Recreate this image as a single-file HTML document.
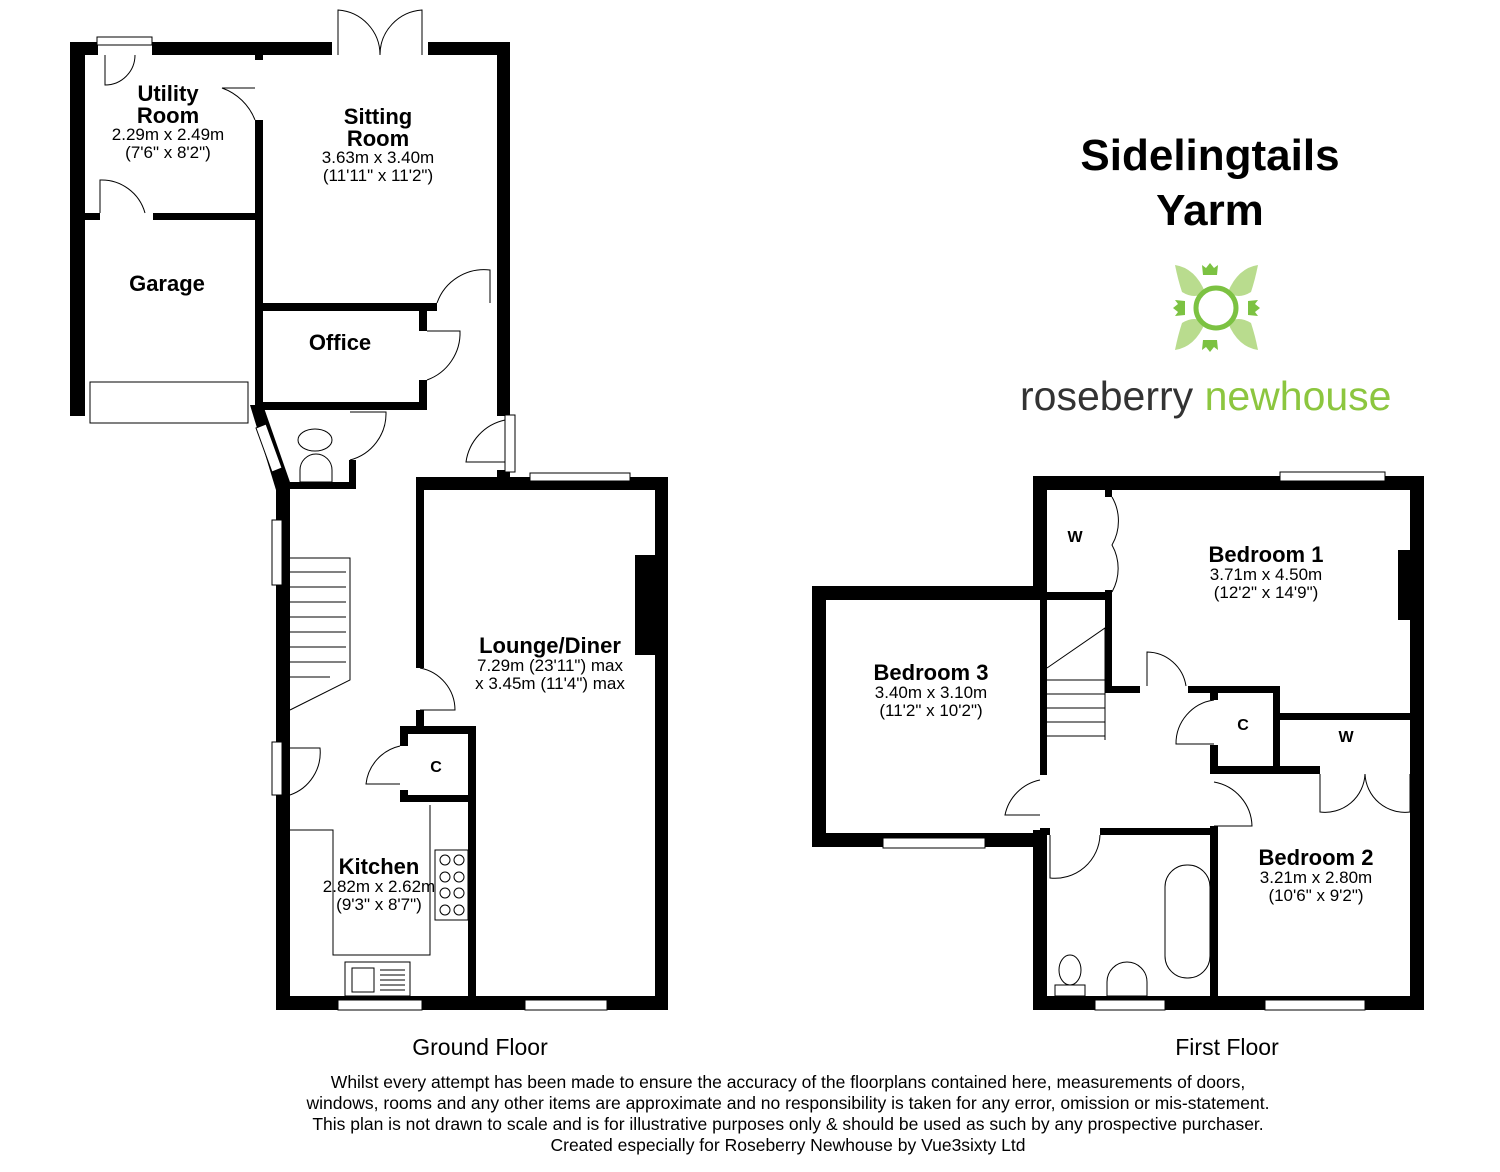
<!DOCTYPE html>
<html><head><meta charset="utf-8"><style>
html,body{margin:0;padding:0;background:#fff;}
svg{display:block;}
text{font-family:"Liberation Sans",Arial,sans-serif;}
.b{font-weight:bold;font-size:22px;fill:#000;text-anchor:middle;}
.d{font-size:17px;fill:#000;text-anchor:middle;}
.t{fill:none;stroke:#000;stroke-width:1;}
</style></head><body>
<svg width="1500" height="1172" viewBox="0 0 1500 1172" xmlns="http://www.w3.org/2000/svg">
<g fill="#000">
<rect x="70" y="42" width="15" height="374"/>
<rect x="70" y="42" width="28" height="13"/>
<rect x="152" y="42" width="180" height="13"/>
<rect x="428" y="42" width="82" height="13"/>
<rect x="497" y="42" width="13" height="374"/>
<rect x="255" y="55" width="8" height="5"/>
<rect x="255" y="120" width="8" height="290"/>
<rect x="85" y="213" width="15" height="7"/>
<rect x="153" y="213" width="102" height="7"/>
<rect x="255" y="303" width="182" height="8"/>
<rect x="419" y="311" width="8" height="20"/>
<rect x="419" y="380" width="8" height="30"/>
<rect x="255" y="402" width="172" height="8"/>
<polygon points="250,405 263,405 291,485 276,490"/>
<rect x="290" y="482" width="66" height="7"/>
<rect x="349" y="460" width="7" height="29"/>
<rect x="276" y="485" width="14" height="525"/>
<rect x="416" y="482" width="94" height="8"/>
<rect x="497" y="470" width="13" height="20"/>
<rect x="416" y="477" width="252" height="13"/>
<rect x="655" y="477" width="13" height="533"/>
<rect x="276" y="996" width="392" height="14"/>
<rect x="416" y="490" width="8" height="178"/>
<rect x="416" y="710" width="8" height="18"/>
<rect x="400" y="726" width="76" height="8"/>
<rect x="400" y="726" width="8" height="20"/>
<rect x="400" y="790" width="8" height="12"/>
<rect x="400" y="795" width="76" height="7"/>
<rect x="468" y="726" width="8" height="284"/>
<rect x="635" y="555" width="20" height="100"/>
<rect x="812" y="586" width="235" height="14"/>
<rect x="812" y="586" width="14" height="261"/>
<rect x="812" y="833" width="235" height="14"/>
<rect x="1033" y="476" width="391" height="14"/>
<rect x="1033" y="476" width="14" height="124"/>
<rect x="1040" y="600" width="7" height="175"/>
<rect x="1033" y="830" width="14" height="180"/>
<rect x="1410" y="476" width="14" height="534"/>
<rect x="1398" y="550" width="12" height="70"/>
<rect x="1033" y="996" width="391" height="14"/>
<rect x="1047" y="592" width="65" height="8"/>
<rect x="1105" y="490" width="7" height="7"/>
<rect x="1105" y="590" width="7" height="102"/>
<rect x="1105" y="686" width="35" height="7"/>
<rect x="1188" y="686" width="92" height="7"/>
<rect x="1273" y="686" width="7" height="88"/>
<rect x="1273" y="713" width="151" height="7"/>
<rect x="1210" y="686" width="8" height="14"/>
<rect x="1210" y="745" width="8" height="29"/>
<rect x="1210" y="766" width="110" height="8"/>
<rect x="1210" y="826" width="8" height="174"/>
<rect x="1100" y="828" width="118" height="7"/>
<rect x="1040" y="828" width="10" height="7"/>
</g>
<g fill="#fff" stroke="#000" stroke-width="1">
<rect x="97" y="37" width="55" height="8"/>
<rect x="90" y="382" width="158" height="41"/>
<rect x="505" y="415" width="10" height="57"/>
<rect x="530" y="473" width="100" height="8"/>
<rect x="338" y="1000" width="84" height="10"/>
<rect x="525" y="1000" width="82" height="10"/>
<rect x="272" y="520" width="10" height="65"/>
<rect x="272" y="742" width="10" height="53"/>
<rect x="883" y="838" width="102" height="10"/>
<rect x="1280" y="472" width="105" height="9"/>
<rect x="1095" y="1000" width="70" height="10"/>
<rect x="1265" y="1000" width="100" height="10"/>
<polygon points="256,428 266,424 282,468 272,472"/>
</g>
<g class="t">
<path d="M105 55 V85 A30 30 0 0 0 135 55"/>
<path d="M255 120 A55 55 0 0 0 222 88 H255"/>
<path d="M338 55 V10 A45 45 0 0 1 380 55 M422 55 V10 A45 45 0 0 0 380 55"/>
<path d="M100 213 V180 A45 45 0 0 1 145 213"/>
<path d="M437 303 A50 50 0 0 1 490 270 V303"/>
<path d="M427 331 H460 A50 50 0 0 1 427 380"/>
<path d="M350 412 H386 A48 48 0 0 1 350 460"/>
<path d="M505 420 A50 50 0 0 0 466 462 H505"/>
<path d="M420 668 A43 43 0 0 1 455 710 H420"/>
<path d="M400 746 A44 44 0 0 0 366 784 H400"/>
<path d="M290 748 H320 A45 45 0 0 1 290 795"/>
<path d="M1112 497 A48 48 0 0 1 1112 545 A48 48 0 0 1 1112 592"/>
<path d="M1147 686 V652 A40 40 0 0 1 1186 686"/>
<path d="M1214 700 A44 44 0 0 0 1176 744 H1214"/>
<path d="M1040 780 A45 45 0 0 0 1005 815 H1040"/>
<path d="M1214 782 A46 46 0 0 1 1252 826 H1214"/>
<path d="M1050 835 V878 A45 45 0 0 0 1100 835"/>
<path d="M1320 774 V812 A40 40 0 0 0 1365 774 M1410 774 V812 A40 40 0 0 1 1365 774"/>
<path d="M290 558 H350 V680 L290 710"/>
<path d="M290 572 H346 M290 587 H346 M290 602 H346 M290 617 H346 M290 632 H346 M290 647 H346 M290 662 H346 M290 677 H330"/>
<path d="M1047 668 L1105 628 V740 M1047 680 H1105 M1047 694 H1105 M1047 708 H1105 M1047 722 H1105 M1047 736 H1105"/>
<path d="M290 830 H333 V955 H430 V805"/>
<rect x="435" y="850" width="33" height="70"/>
<circle cx="445" cy="860" r="5"/><circle cx="459" cy="860" r="5"/><circle cx="445" cy="877" r="5"/><circle cx="459" cy="877" r="5"/>
<circle cx="445" cy="893" r="5"/><circle cx="459" cy="893" r="5"/><circle cx="445" cy="910" r="5"/><circle cx="459" cy="910" r="5"/>
<rect x="345" y="962" width="65" height="34"/><rect x="352" y="968" width="22" height="24"/>
<path d="M380 970 H405 M380 975 H405 M380 980 H405 M380 985 H405 M380 990 H405"/>
<ellipse cx="315" cy="440" rx="17" ry="11"/>
<path d="M300 482 V470 A16 16 0 0 1 332 470 V482 Z"/>
<rect x="1165" y="865" width="45" height="113" rx="22"/>
<ellipse cx="1070" cy="970" rx="11" ry="15"/><rect x="1055" y="985" width="30" height="11"/>
<path d="M1107 996 V982 A20 20 0 0 1 1147 982 V996 Z"/>
</g>
<text class="b" x="168" y="101">Utility</text>
<text class="b" x="168" y="123">Room</text>
<text class="d" x="168" y="140">2.29m x 2.49m</text>
<text class="d" x="168" y="158">(7'6" x 8'2")</text>
<text class="b" x="378" y="124">Sitting</text>
<text class="b" x="378" y="146">Room</text>
<text class="d" x="378" y="163">3.63m x 3.40m</text>
<text class="d" x="378" y="181">(11'11" x 11'2")</text>
<text class="b" x="167" y="291">Garage</text>
<text class="b" x="340" y="350">Office</text>
<text class="b" x="550" y="653">Lounge/Diner</text>
<text class="d" x="550" y="671">7.29m (23'11") max</text>
<text class="d" x="550" y="689">x 3.45m (11'4") max</text>
<text class="b" x="436" y="772" style="font-size:16px">C</text>
<text class="b" x="379" y="874">Kitchen</text>
<text class="d" x="379" y="892">2.82m x 2.62m</text>
<text class="d" x="379" y="910">(9'3" x 8'7")</text>
<text class="b" x="931" y="680">Bedroom 3</text>
<text class="d" x="931" y="698">3.40m x 3.10m</text>
<text class="d" x="931" y="716">(11'2" x 10'2")</text>
<text class="b" x="1075" y="542" style="font-size:16px">W</text>
<text class="b" x="1266" y="562">Bedroom 1</text>
<text class="d" x="1266" y="580">3.71m x 4.50m</text>
<text class="d" x="1266" y="598">(12'2" x 14'9")</text>
<text class="b" x="1243" y="730" style="font-size:16px">C</text>
<text class="b" x="1346" y="742" style="font-size:16px">W</text>
<text class="b" x="1316" y="865">Bedroom 2</text>
<text class="d" x="1316" y="883">3.21m x 2.80m</text>
<text class="d" x="1316" y="901">(10'6" x 9'2")</text>
<text x="480" y="1055" style="font-size:23px;text-anchor:middle">Ground Floor</text>
<text x="1227" y="1055" style="font-size:23px;text-anchor:middle">First Floor</text>
<g style="font-size:17.5px;text-anchor:middle">
<text x="788" y="1088">Whilst every attempt has been made to ensure the accuracy of the floorplans contained here, measurements of doors,</text>
<text x="788" y="1109">windows, rooms and any other items are approximate and no responsibility is taken for any error, omission or mis-statement.</text>
<text x="788" y="1130">This plan is not drawn to scale and is for illustrative purposes only &amp; should be used as such by any prospective purchaser.</text>
<text x="788" y="1151">Created especially for Roseberry Newhouse by Vue3sixty Ltd</text>
</g>
<text x="1210" y="170" style="font-size:44px;font-weight:bold;text-anchor:middle">Sidelingtails</text>
<text x="1210" y="225" style="font-size:44px;font-weight:bold;text-anchor:middle">Yarm</text>
<g>
<g fill="#b9dc8e">
<path d="M1175 265 Q1195 268 1205 292 Q1195 300 1182 292 Q1178 280 1175 265Z"/>
<path d="M1258 265 Q1238 268 1228 292 Q1238 300 1251 292 Q1255 280 1258 265Z"/>
<path d="M1175 350 Q1195 347 1205 323 Q1195 315 1182 323 Q1178 335 1175 350Z"/>
<path d="M1258 350 Q1238 347 1228 323 Q1238 315 1251 323 Q1255 335 1258 350Z"/>
</g>
<g fill="#7cc242">
<path d="M1210 263 l4 5 4 -3 -1 10 h-14 l-1 -10 4 3z"/>
<path d="M1210 352 l4 -5 4 3 -1 -10 h-14 l-1 10 4 -3z"/>
<path d="M1173 308 l5 -4 -3 -4 10 1 v14 l-10 1 3 -4z"/>
<path d="M1260 308 l-5 -4 3 -4 -10 1 v14 l10 1 -3 -4z"/>
</g>
<circle cx="1216" cy="308" r="20" fill="none" stroke="#7cc242" stroke-width="5"/>
</g>
<text x="1020" y="410" style="font-size:41px;fill:#333">roseberry <tspan fill="#8cc63f">newhouse</tspan></text>
</svg>
</body></html>
